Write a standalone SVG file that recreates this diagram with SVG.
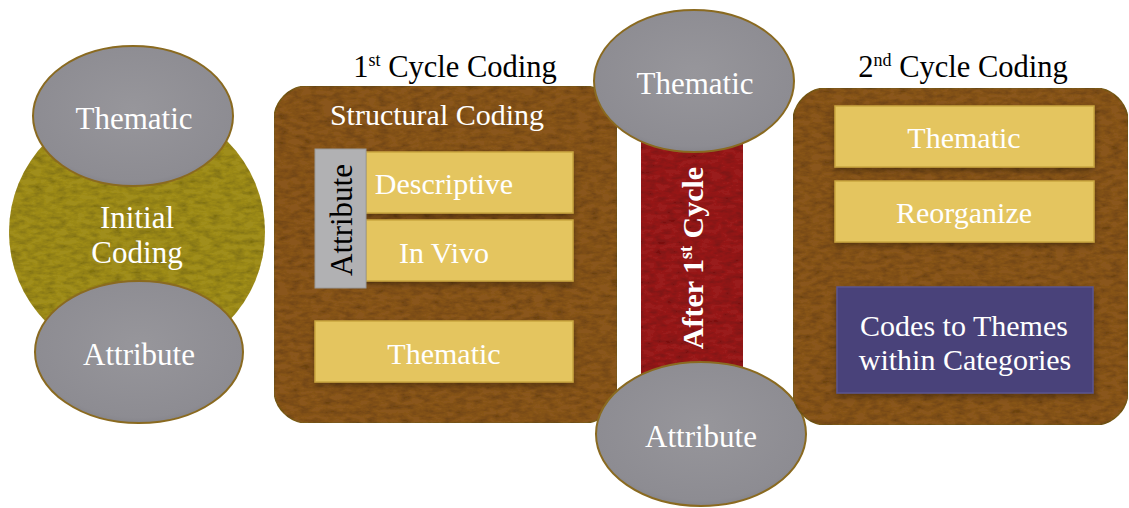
<svg xmlns="http://www.w3.org/2000/svg" width="1129" height="508" viewBox="0 0 1129 508">
<defs>
<style>
text{font-family:'Liberation Serif','Tinos','Noto Serif','DejaVu Serif','Times New Roman',Times,serif}
.t{fill:#fff;text-anchor:middle;font-size:30px}
.e{fill:#fff;text-anchor:middle;font-size:31px}
.h{fill:#000;text-anchor:middle;font-size:30.5px}
.k{fill:#000;text-anchor:middle;font-size:31px}
.ell{fill:url(#gg);stroke:#8a6a20;stroke-width:2}
.yb{fill:#e4c55f;stroke:#c9a640;stroke-width:1.5}
</style>
<radialGradient id="gg" cx="50%" cy="45%" r="60%">
<stop offset="0" stop-color="#97969b"/><stop offset="0.85" stop-color="#8d8c92"/><stop offset="1" stop-color="#7e7d84"/>
</radialGradient>
<filter id="tex" x="0" y="0" width="100%" height="100%">
<feTurbulence type="fractalNoise" baseFrequency="0.09 0.2" numOctaves="4" seed="7" result="n"/>
<feColorMatrix in="n" type="matrix" values="0 0 0 0 0  0 0 0 0 0  0 0 0 0 0  0 0 0 0.8 -0.3" result="a"/>
<feComposite in="a" in2="SourceGraphic" operator="in" result="d"/>
<feMerge><feMergeNode in="SourceGraphic"/><feMergeNode in="d"/></feMerge>
</filter>
<filter id="sh" x="-10%" y="-10%" width="120%" height="125%">
<feGaussianBlur in="SourceAlpha" stdDeviation="3"/><feOffset dy="3"/>
<feComponentTransfer><feFuncA type="linear" slope="0.35"/></feComponentTransfer>
<feMerge><feMergeNode/><feMergeNode in="SourceGraphic"/></feMerge>
</filter>
</defs>
<rect width="1129" height="508" fill="#fff"/>

<g id="initial">
<circle cx="137" cy="232" r="128" fill="#a08e1e" filter="url(#tex)"/>
<text class="e" x="137" y="228">Initial</text>
<text class="e" x="137" y="263">Coding</text>
</g>
<g id="init-thematic">
<ellipse class="ell" cx="133" cy="116" rx="100" ry="70"/>
<text class="e" x="134" y="129">Thematic</text>
</g>
<g id="init-attribute">
<ellipse class="ell" cx="139" cy="352" rx="104" ry="71"/>
<text class="e" x="139" y="365">Attribute</text>
</g>

<g id="first-cycle">
<text class="h" x="455" y="77">1<tspan font-size="18" dy="-11">st</tspan><tspan dy="11"> Cycle Coding</tspan></text>
<rect x="274" y="86" width="343" height="337" rx="34" fill="#8a561c" stroke="#7a5a1a" stroke-width="1.5" filter="url(#tex)"/>
<text class="t" x="437" y="125">Structural Coding</text>
</g>
<g id="descriptive">
<rect class="yb" x="366" y="152" width="207" height="61" filter="url(#sh)"/>
<text class="t" x="444" y="194">Descriptive</text>
</g>
<g id="invivo">
<rect class="yb" x="366" y="220" width="207" height="61" filter="url(#sh)"/>
<text class="t" x="444" y="263">In Vivo</text>
</g>
<g id="attribute-bar">
<rect x="315" y="149" width="51" height="139" fill="#b1b1b3" stroke="#9a9a9a" stroke-width="1"/>
<text class="k" x="0" y="0" transform="translate(352 220) rotate(-90)">Attribute</text>
</g>
<g id="first-thematic">
<rect class="yb" x="315" y="321" width="258" height="61" filter="url(#sh)"/>
<text class="t" x="444" y="364">Thematic</text>
</g>

<g id="after-first">
<rect x="641" y="140" width="102" height="234" fill="#9a1a1e" filter="url(#tex)"/>
<text class="t" x="0" y="0" font-weight="bold" transform="translate(703 258) rotate(-90)">After 1<tspan font-size="18" dy="-11">st</tspan><tspan dy="11"> Cycle</tspan></text>
</g>
<g id="mid-thematic">
<ellipse class="ell" cx="694" cy="81" rx="100" ry="71"/>
<text class="e" x="695" y="94">Thematic</text>
</g>
<g id="mid-attribute">
<ellipse class="ell" cx="701" cy="434" rx="105" ry="72"/>
<text class="e" x="701" y="447">Attribute</text>
</g>

<g id="second-cycle">
<text class="h" x="963" y="77">2<tspan font-size="18" dy="-11">nd</tspan><tspan dy="11"> Cycle Coding</tspan></text>
<rect x="793" y="88" width="335" height="337" rx="34" fill="#8a561c" stroke="#7a5a1a" stroke-width="1.5" filter="url(#tex)"/>
</g>
<g id="second-thematic">
<rect class="yb" x="835" y="106" width="259" height="61" filter="url(#sh)"/>
<text class="t" x="964" y="148">Thematic</text>
</g>
<g id="reorganize">
<rect class="yb" x="835" y="181" width="259" height="61" filter="url(#sh)"/>
<text class="t" x="964" y="223">Reorganize</text>
</g>
<g id="codes-to-themes">
<rect x="837" y="287" width="256" height="106" fill="#48437a" stroke="#5a5590" stroke-width="1.5" filter="url(#sh)"/>
<text class="t" x="964" y="336">Codes to Themes</text>
<text class="t" x="965" y="370">within Categories</text>
</g>

<g id="connectors"/>
</svg>
